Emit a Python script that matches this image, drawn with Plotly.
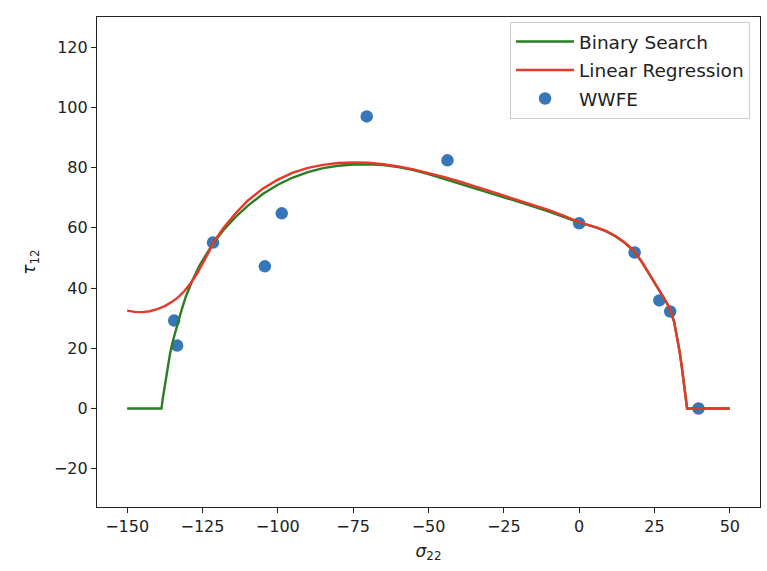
import plotly.graph_objects as go

# WWFE experimental points
wwfe_x = [-134.4, -133.4, -121.5, -104.3, -98.7, -70.5, -43.7, 0.0, 18.4, 26.6, 30.2, 39.6]
wwfe_y = [29.2, 20.9, 55.1, 47.2, 64.8, 97.0, 82.4, 61.5, 51.8, 35.9, 32.2, 0.0]

# Binary Search curve
bs_x = [-150, -138.6, -138.3, -137.8, -137.3, -136.6, -135.8, -134.8, -133.5, -132, -130.5,
        -128.5, -126, -123.5, -121.5, -118, -114, -110, -105, -100, -95, -90, -85, -80, -75,
        -70, -65, -60, -55, -50, -45, -40, -30, -20, -10, -5, 0, 3, 6, 9, 12, 15, 18.2, 21, 24, 27,
        29, 30.4, 31.5, 32.5, 33.3, 34, 34.6, 35.1, 35.5, 35.8, 50]
bs_y = [0, 0, 2.5, 5.5, 9, 13.5, 18, 22.5, 27.5, 32.5, 37.2,
        42.2, 47.5, 51.8, 54.8, 59.3, 63.6, 67.3, 71.2, 74.3, 76.7, 78.5, 79.8, 80.6, 81.0,
        81.1, 80.8, 80.2, 79.2, 77.8, 76.3, 74.8, 71.7, 68.6, 65.4, 63.6, 61.7, 60.9, 60.0, 58.8, 57.2, 55.1, 52.3, 48.3, 43.2, 38.5,
        35.2, 32.3, 28.8, 24.0, 19.0, 14.2, 9.6, 5.6, 2.2, 0, 0]

# Linear Regression curve
lr_x = [-150, -147.5, -145, -142.5, -140, -137.5, -135, -133, -131, -129, -127, -125, -123,
        -121.5, -118, -114, -110, -105, -100, -95, -90, -85, -80, -75, -70, -65, -60, -55,
        -50, -45, -40, -30, -20, -10, -5, 0, 3, 6, 9, 12, 15, 18.2, 21, 24, 27,
        29, 30.4, 31.5, 32.5, 33.3, 34, 34.6, 35.1, 35.5, 35.8, 50]
lr_y = [32.5, 32.1, 32.0, 32.3, 33.0, 34.0, 35.5, 37.0, 39.0, 41.5, 44.5, 48.0, 51.7,
        55.0, 60.0, 64.8, 69.0, 73.0, 76.0, 78.3, 79.9, 80.9, 81.5, 81.7, 81.6, 81.1, 80.4, 79.4,
        78.2, 76.9, 75.5, 72.3, 69.2, 65.9, 64.0, 61.9, 61.0, 60.1, 58.9, 57.3, 55.2, 52.4, 48.4, 43.3, 38.6,
        35.3, 32.3, 28.8, 24.0, 19.0, 14.2, 9.6, 5.6, 2.2, 0, 0]

x_ticks = [-150, -125, -100, -75, -50, -25, 0, 25, 50]
y_ticks = [-20, 0, 20, 40, 60, 80, 100, 120]

FONT = "DejaVu Sans"
fig = go.Figure()
fig.add_trace(go.Scatter(x=wwfe_x, y=wwfe_y, mode="markers", name="WWFE",
                         marker=dict(size=12.5, color="#3776b7"), legendrank=3, legendgroup="c"))
fig.add_trace(go.Scatter(x=bs_x, y=bs_y, mode="lines", name="Binary Search",
                         line=dict(color="#2a7d22", width=2.4), legendrank=1, legendgroup="a"))
fig.add_trace(go.Scatter(x=lr_x, y=lr_y, mode="lines", name="Linear Regression",
                         line=dict(color="#e8382a", width=2.4), legendrank=2, legendgroup="b"))

axis_common = dict(showline=True, linecolor="#222", linewidth=1.2, mirror=True,
                   ticks="outside", ticklen=5, tickwidth=1.1, tickcolor="#222",
                   showgrid=False, zeroline=False, automargin=False,
                   tickfont=dict(family=FONT, size=16, color="#222"))

fig.update_xaxes(range=[-160, 60], tickvals=x_ticks,
                 ticktext=["\u2212" + str(-v) if v < 0 else str(v) for v in x_ticks],
                 title=dict(text="<i>σ</i><sub>22</sub>", font=dict(family=FONT, size=17, color="#222"),
                            standoff=9),
                 **axis_common)
fig.update_yaxes(range=[-32.7, 130], tickvals=y_ticks,
                 ticktext=["\u2212" + str(-v) if v < 0 else str(v) for v in y_ticks],
                 title=dict(text="<i>τ</i><sub>12</sub>", font=dict(family=FONT, size=17, color="#222"),
                            standoff=13),
                 **axis_common)

fig.update_layout(
    width=767, height=571,
    margin=dict(l=97, r=7, t=17, b=64),
    paper_bgcolor="white", plot_bgcolor="white",
    font=dict(family=FONT, size=16, color="#222"),
    showlegend=True,
    legend=dict(x=0.985, y=0.99, xanchor="right", yanchor="top",
                bgcolor="white", bordercolor="#cccccc", borderwidth=1,
                font=dict(family=FONT, size=18.5, color="#222"),
                itemwidth=58, tracegroupgap=1.5),
)

fig.write_html("out.html", config={"displayModeBar": False},
               post_script="document.body.style.margin='0';document.body.style.overflow='hidden';")
